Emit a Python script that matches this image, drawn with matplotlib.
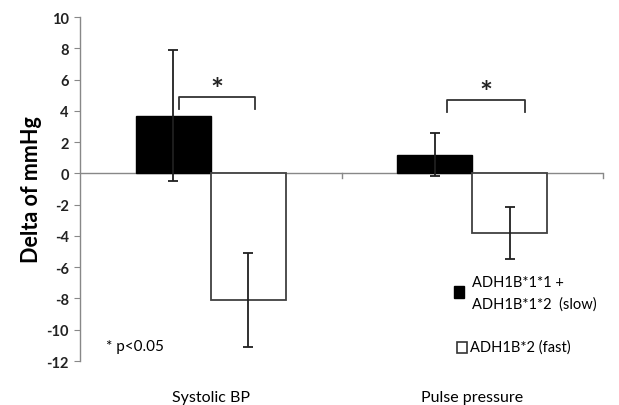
import numpy as np
import matplotlib.pyplot as plt
from matplotlib.patches import Rectangle

categories = ["Systolic BP", "Pulse pressure"]
slow_vals = [3.7, 1.2]
slow_err = [4.2, 1.4]
fast_vals = [-8.1, -3.8]
fast_err = [3.0, 1.65]
y_ticks = list(range(-12, 11, 2))

plt.rcParams['font.family'] = ['Lato', 'DejaVu Sans']

fig = plt.figure(figsize=(6.19, 4.06), dpi=100)
ax = fig.add_axes([80 / 619, 1 - 362 / 406, 523 / 619, 344 / 406])

x = np.arange(len(categories))
w = 0.287
ax.bar(x - w / 2, slow_vals, w, color="black", edgecolor="black", linewidth=1.0, zorder=2)
ax.bar(x + w / 2, fast_vals, w, color="white", edgecolor="#404040", linewidth=1.3, zorder=2)
ax.errorbar(x - w / 2, slow_vals, yerr=slow_err, fmt="none", ecolor="#202020",
            elinewidth=1.3, capsize=3.5, capthick=1.3, zorder=3)
ax.errorbar(x + w / 2, fast_vals, yerr=fast_err, fmt="none", ecolor="#202020",
            elinewidth=1.3, capsize=3.5, capthick=1.3, zorder=3)

ax.set_xlim(-0.5, 1.5)
ax.set_ylim(-12, 10)
ax.set_yticks(y_ticks)
ax.set_yticklabels([str(t) for t in y_ticks], fontweight="bold", fontsize=10.5, color="#222222")
ax.tick_params(axis="y", direction="out", length=4, color="#888888", pad=4)
ax.set_xticks([])
for s in ["top", "right", "bottom"]:
    ax.spines[s].set_visible(False)
ax.spines["left"].set_color("#888888")
ax.spines["left"].set_linewidth(1.0)

# zero line with category separator ticks
ax.axhline(0, color="#888888", linewidth=1.0, zorder=1)
for b in [0.5, 1.5]:
    ax.plot([b, b], [0, -0.3], color="#888888", linewidth=1.0, clip_on=False, zorder=1)

ax.set_ylabel("Delta of mmHg", fontsize=15.5, fontweight="bold", labelpad=3)

# significance brackets
brackets = [(-0.12, 0.17, 4.9, 4.1), (0.905, 1.2, 4.7, 3.9)]
for x0, x1, top, leg in brackets:
    ax.plot([x0, x0, x1, x1], [leg, top, top, leg], color="#333333", linewidth=1.3,
            solid_joinstyle="round", zorder=3)
    ax.text((x0 + x1) / 2, top - 0.45, "*", ha="center", va="bottom",
            fontsize=22, fontweight="bold", color="#222222")

ax.text(-0.4, -11.05, "* p<0.05", fontsize=11, va="center", ha="left")

# legend
fig.patches.append(Rectangle((454 / 619, 1 - 299 / 406), 10 / 619, 12 / 406,
                             facecolor="black", edgecolor="black",
                             transform=fig.transFigure, figure=fig))
fig.patches.append(Rectangle((457 / 619, 1 - 354 / 406), 10 / 619, 11 / 406,
                             facecolor="white", edgecolor="#333333", linewidth=1.2,
                             transform=fig.transFigure, figure=fig))
fig.text(472 / 619, 1 - 283 / 406, "ADH1B*1*1 +", fontsize=10.5, va="center", ha="left")
fig.text(472 / 619, 1 - 305 / 406, "ADH1B*1*2  (slow)", fontsize=10.5, va="center", ha="left")
fig.text(470 / 619, 1 - 348 / 406, "ADH1B*2 (fast)", fontsize=10.5, va="center", ha="left")

for xi, name in zip(x, categories):
    fig.text((80 + (xi + 0.5) * 261.5) / 619, 1 / 406, name, ha="center", va="bottom",
             fontsize=11.5)

fig.savefig("out.png", dpi=100)
